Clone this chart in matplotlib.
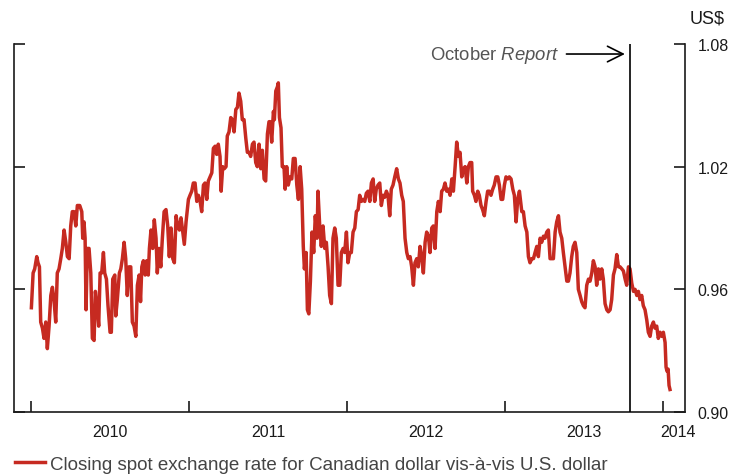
import matplotlib
matplotlib.use("Agg")
import matplotlib.pyplot as plt
from matplotlib.lines import Line2D
import numpy as np

# ---- data (decimal year, US$ per C$) ----
years = [
2010.002,2010.013,2010.023,2010.036,2010.044,2010.053,2010.061,2010.072,2010.082,2010.093,
2010.103,2010.114,2010.125,2010.135,2010.146,2010.156,2010.166,2010.177,2010.188,2010.198,
2010.209,2010.220,2010.230,2010.241,2010.251,2010.261,2010.272,2010.283,2010.293,2010.308,
2010.321,2010.327,2010.335,2010.342,2010.348,2010.356,2010.367,2010.378,2010.388,2010.399,
2010.407,2010.420,2010.428,2010.437,2010.447,2010.458,2010.466,2010.477,2010.487,2010.500,
2010.508,2010.517,2010.530,2010.536,2010.546,2010.559,2010.568,2010.578,2010.589,2010.599,
2010.609,2010.620,2010.631,2010.641,2010.652,2010.663,2010.673,2010.684,2010.693,2010.701,
2010.711,2010.722,2010.732,2010.742,2010.749,2010.759,2010.770,2010.780,2010.791,2010.799,
2010.810,2010.821,2010.831,2010.842,2010.854,2010.865,2010.875,2010.886,2010.897,2010.907,
2010.918,2010.928,2010.939,2010.949,2010.960,2010.970,2010.981,2010.996,2011.006,2011.017,
2011.027,2011.038,2011.049,2011.059,2011.070,2011.080,2011.091,2011.101,2011.112,2011.122,
2011.133,2011.144,2011.154,2011.165,2011.175,2011.185,2011.196,2011.203,2011.213,2011.223,
2011.234,2011.242,2011.253,2011.264,2011.274,2011.285,2011.296,2011.306,2011.316,2011.327,
2011.337,2011.348,2011.359,2011.369,2011.380,2011.390,2011.401,2011.411,2011.422,2011.432,
2011.443,2011.454,2011.464,2011.475,2011.485,2011.496,2011.506,2011.513,2011.523,2011.534,
2011.540,2011.549,2011.559,2011.565,2011.572,2011.582,2011.590,2011.601,2011.608,2011.618,
2011.628,2011.639,2011.650,2011.660,2011.671,2011.682,2011.692,2011.703,2011.713,2011.723,
2011.730,2011.741,2011.749,2011.758,2011.768,2011.778,2011.789,2011.799,2011.810,2011.816,
2011.827,2011.837,2011.848,2011.859,2011.869,2011.880,2011.890,2011.901,2011.911,2011.922,
2011.932,2011.943,2011.954,2011.964,2011.975,2011.985,2011.996,2012.006,2012.017,2012.027,
2012.038,2012.049,2012.059,2012.070,2012.080,2012.091,2012.101,2012.112,2012.122,2012.133,
2012.144,2012.154,2012.165,2012.175,2012.185,2012.196,2012.207,2012.217,2012.228,2012.238,
2012.249,2012.259,2012.270,2012.280,2012.291,2012.302,2012.314,2012.325,2012.335,2012.346,
2012.356,2012.367,2012.378,2012.388,2012.399,2012.409,2012.420,2012.430,2012.441,2012.451,
2012.462,2012.473,2012.483,2012.494,2012.504,2012.515,2012.525,2012.536,2012.546,2012.557,
2012.568,2012.578,2012.589,2012.599,2012.610,2012.620,2012.631,2012.642,2012.652,2012.663,
2012.673,2012.684,2012.694,2012.705,2012.715,2012.726,2012.737,2012.747,2012.758,2012.768,
2012.778,2012.789,2012.795,2012.806,2012.816,2012.827,2012.837,2012.848,2012.858,2012.869,
2012.880,2012.890,2012.901,2012.911,2012.922,2012.932,2012.943,2012.954,2012.964,2012.975,
2012.985,2012.996,2013.006,2013.017,2013.027,2013.038,2013.049,2013.059,2013.070,2013.080,
2013.091,2013.106,2013.116,2013.127,2013.138,2013.148,2013.158,2013.169,2013.180,2013.190,
2013.201,2013.211,2013.222,2013.232,2013.243,2013.253,2013.264,2013.274,2013.285,2013.296,
2013.306,2013.317,2013.327,2013.338,2013.348,2013.359,2013.369,2013.380,2013.391,2013.401,
2013.411,2013.422,2013.432,2013.443,2013.454,2013.464,2013.475,2013.485,2013.496,2013.506,
2013.517,2013.528,2013.538,2013.549,2013.559,2013.570,2013.580,2013.591,2013.601,2013.612,
2013.622,2013.633,2013.644,2013.654,2013.665,2013.675,2013.686,2013.696,2013.707,2013.718,
2013.728,2013.739,2013.749,2013.760,2013.770,2013.781,2013.791,2013.802,2013.813,2013.823,
2013.834,2013.844,2013.854,2013.865,2013.875,2013.886,2013.897,2013.907,2013.918,2013.928,
2013.939,2013.949,2013.960,2013.970,2013.981,2013.992,2014.002,2014.013,2014.019,2014.025,
2014.032,2014.038,2014.044]

rates = [
0.951,0.968,0.970,0.976,0.973,0.971,0.944,0.941,0.936,0.944,
0.931,0.942,0.957,0.961,0.954,0.944,0.968,0.970,0.975,0.980,
0.989,0.983,0.976,0.975,0.991,0.998,0.998,0.991,1.001,1.001,
0.998,0.985,0.993,0.985,0.950,0.980,0.980,0.968,0.936,0.935,
0.959,0.950,0.942,0.968,0.968,0.978,0.968,0.965,0.952,0.939,
0.939,0.965,0.967,0.947,0.955,0.968,0.970,0.975,0.983,0.975,
0.957,0.971,0.971,0.944,0.942,0.937,0.962,0.967,0.954,0.971,
0.974,0.967,0.974,0.967,0.980,0.989,0.980,0.994,0.985,0.968,
0.980,0.971,0.985,0.998,0.999,0.991,0.976,0.990,0.975,0.973,
0.996,0.991,0.989,0.995,0.988,0.982,0.993,1.004,1.006,1.008,
1.012,1.012,1.003,1.006,1.003,0.998,1.011,1.012,1.004,1.013,
1.015,1.017,1.029,1.030,1.026,1.031,1.025,1.008,1.020,1.019,
1.020,1.035,1.037,1.044,1.043,1.037,1.048,1.049,1.056,1.052,
1.043,1.043,1.034,1.027,1.027,1.025,1.031,1.032,1.022,1.020,
1.031,1.019,1.028,1.014,1.013,1.036,1.042,1.042,1.032,1.047,
1.043,1.057,1.059,1.061,1.044,1.039,1.020,1.020,1.009,1.020,
1.011,1.015,1.014,1.024,1.024,1.011,1.004,1.020,1.009,0.981,
0.970,0.978,0.950,0.948,0.964,0.988,0.978,0.996,0.985,1.008,
0.991,0.981,0.991,0.980,0.983,0.971,0.957,0.953,0.985,0.990,
0.985,0.962,0.962,0.978,0.980,0.978,0.988,0.973,0.978,0.978,
0.988,0.990,0.998,0.999,1.006,1.003,1.004,1.003,1.007,1.008,
1.003,1.012,1.014,1.003,1.009,1.011,1.012,1.001,1.006,1.005,
1.008,1.006,0.996,1.009,1.011,1.015,1.019,1.014,1.012,1.006,
1.003,0.985,0.978,0.975,0.976,0.971,0.962,0.973,0.975,0.971,
0.981,0.976,0.968,0.983,0.988,0.986,0.978,0.990,0.991,0.980,
0.998,1.003,0.998,1.008,1.009,1.012,1.008,1.009,1.006,1.014,
1.008,1.020,1.032,1.025,1.027,1.015,1.019,1.020,1.012,1.020,
1.022,1.022,1.008,1.006,1.003,1.008,1.006,1.001,0.999,0.996,
1.003,1.008,1.008,1.006,1.009,1.011,1.015,1.015,1.011,1.004,
1.004,1.011,1.015,1.014,1.015,1.014,1.009,1.006,0.993,1.004,
1.008,0.998,0.998,0.991,0.988,0.976,0.973,0.975,0.975,0.978,
0.981,0.976,0.985,0.983,0.986,0.985,0.988,0.989,0.975,0.975,
0.975,0.988,0.993,0.996,0.988,0.985,0.978,0.971,0.964,0.964,
0.968,0.976,0.981,0.983,0.978,0.960,0.957,0.954,0.952,0.951,
0.962,0.965,0.964,0.968,0.974,0.971,0.962,0.970,0.965,0.970,
0.965,0.953,0.950,0.949,0.950,0.955,0.967,0.970,0.977,0.971,
0.971,0.970,0.969,0.965,0.962,0.971,0.970,0.963,0.959,0.960,
0.957,0.959,0.955,0.957,0.952,0.950,0.945,0.939,0.937,0.942,
0.944,0.941,0.942,0.936,0.939,0.937,0.939,0.934,0.922,0.920,
0.921,0.913,0.911]

year_ticks = [2010, 2011, 2012, 2013, 2014]
year_labels = ["2010", "2011", "2012", "2013", "2014"]
year_label_pos = [2010.5, 2011.5, 2012.5, 2013.5, 2014.095]
y_ticks = [0.90, 0.96, 1.02, 1.08]
report_date = 2013.791
series_label = "Closing spot exchange rate for Canadian dollar vis-\u00e0-vis U.S. dollar"

RED = "#c62a21"
plt.rcParams['font.family'] = ['Liberation Sans', 'DejaVu Sans']
plt.rcParams['mathtext.fontset'] = 'custom'
plt.rcParams['mathtext.rm'] = 'Liberation Sans'
plt.rcParams['mathtext.it'] = 'Liberation Sans:italic'

fig = plt.figure(figsize=(7.34, 4.77), dpi=100)
ax = fig.add_axes([14/734, 1-413/477, (685-14)/734, (413-45)/477])

ax.plot(years, rates, color=RED, lw=2.5, solid_joinstyle='round', zorder=3)
ax.axvline(report_date, color='black', lw=1.2, zorder=4)

ax.set_xlim(2009.892, 2014.139)
ax.set_ylim(0.90, 1.08)

ax.spines['top'].set_visible(False)
for s in ['left', 'right', 'bottom']:
    ax.spines[s].set_linewidth(1.2)
    ax.spines[s].set_color('#1a1a1a')

ax.set_yticks(y_ticks)
ax.set_yticklabels([f"{v:.2f}" for v in y_ticks])
ax.yaxis.tick_right()
ax.tick_params(axis='y', which='major', direction='in', length=8, width=1.2,
               left=True, right=True, labelleft=False, labelright=True,
               labelsize=11.5, pad=9, colors='#1a1a1a')

ax.set_xticks(year_ticks)
ax.set_xticklabels([])
ax.set_xticks(year_label_pos, minor=True)
ax.set_xticklabels(year_labels, minor=True)
ax.tick_params(axis='x', which='major', direction='in', length=8, width=1.2, colors='#1a1a1a')
ax.tick_params(axis='x', which='minor', length=0, labelsize=11.5, pad=9, colors='#1a1a1a')

fig.text(690/734, 1-19/477, "US$", ha='left', va='center', fontsize=13, color='#1a1a1a')

# October Report annotation
ann_y = 1.0751
ax.annotate("", xy=(report_date - 0.015, ann_y), xytext=(report_date - 0.42, ann_y),
            arrowprops=dict(arrowstyle='->', color='black', lw=1.2, mutation_scale=28))
ax.text(report_date - 0.448, ann_y, r"October $\it{Report}$", ha='right', va='center',
        fontsize=13.3, color='#555555')

handle = Line2D([0], [0], color=RED, lw=2.5)
fig.legend([handle], [series_label], loc='center left', bbox_to_anchor=(15/734, 1-465/477),
           frameon=False, fontsize=13.5, handlelength=1.6, handletextpad=0.27,
           labelcolor='#444444', borderaxespad=0, borderpad=0)

fig.savefig("out.png", dpi=100)
